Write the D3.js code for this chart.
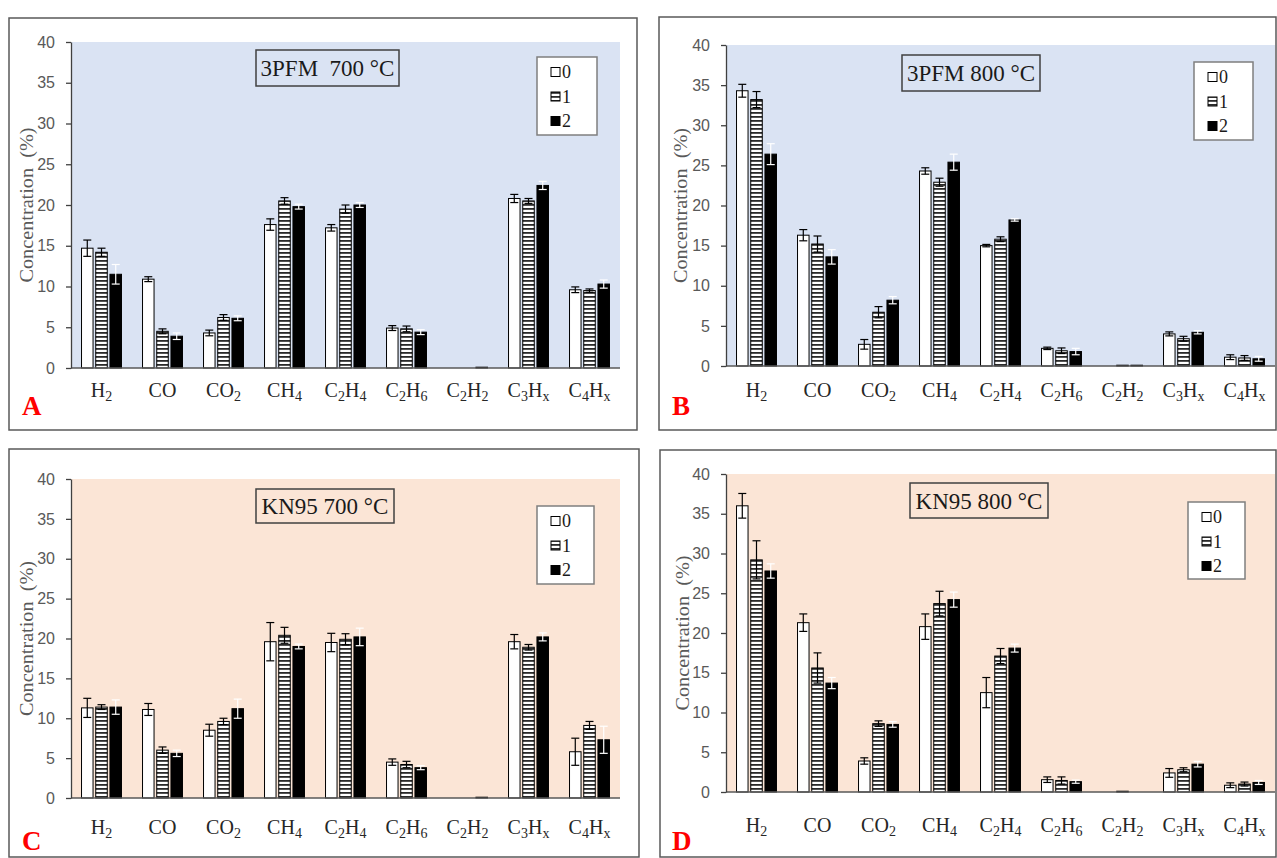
<!DOCTYPE html>
<html>
<head>
<meta charset="utf-8">
<script src="https://cdn.jsdelivr.net/npm/d3@7"></script>
<style>
  html, body { margin: 0; padding: 0; background: #ffffff; }
  svg { display: block; }
</style>
</head>
<body>
<svg id="chart" width="1277" height="858"></svg>
<script>
// ---------------- DATA ----------------
const categories = ["H2", "CO", "CO2", "CH4", "C2H4", "C2H6", "C2H2", "C3Hx", "C4Hx"];
const seriesNames = ["0", "1", "2"];
const yTicks = [0, 5, 10, 15, 20, 25, 30, 35, 40];
const yTitle = "Concentration\u00a0\u00a0(%)";

// Panel A: 3PFM 700 °C
const pfm700_s0 = [14.7, 10.9, 4.3, 17.6, 17.2, 4.9, 0, 20.8, 9.6];
const pfm700_s1 = [14.2, 4.5, 6.2, 20.5, 19.5, 4.8, 0, 20.5, 9.5];
const pfm700_s2 = [11.5, 3.9, 6.1, 19.8, 20.0, 4.4, 0.1, 22.4, 10.3];
const pfm700_e0 = [1.0, 0.3, 0.35, 0.7, 0.4, 0.3, 0, 0.5, 0.35];
const pfm700_e1 = [0.5, 0.3, 0.35, 0.4, 0.5, 0.35, 0, 0.3, 0.2];
const pfm700_e2 = [1.2, 0.4, 0.3, 0.3, 0.3, 0.3, 0, 0.5, 0.5];

// Panel B: 3PFM 800 °C
const pfm800_s0 = [34.3, 16.3, 2.7, 24.3, 15.0, 2.2, 0, 4.0, 1.1];
const pfm800_s1 = [33.2, 15.2, 6.7, 22.9, 15.8, 1.9, 0.1, 3.4, 1.0];
const pfm800_s2 = [26.4, 13.6, 8.2, 25.4, 18.2, 1.8, 0.1, 4.2, 0.9];
const pfm800_e0 = [0.8, 0.7, 0.6, 0.4, 0.15, 0.15, 0, 0.25, 0.3];
const pfm800_e1 = [1.0, 1.0, 0.7, 0.5, 0.3, 0.35, 0, 0.3, 0.3];
const pfm800_e2 = [1.3, 0.9, 0.45, 1.0, 0.15, 0.4, 0, 0.2, 0.3];

// Panel C: KN95 700 °C
const kn700_s0 = [11.3, 11.1, 8.5, 19.6, 19.5, 4.5, 0, 19.6, 5.8];
const kn700_s1 = [11.4, 6.0, 9.6, 20.4, 19.9, 4.2, 0, 18.9, 9.1];
const kn700_s2 = [11.4, 5.6, 11.2, 19.0, 20.2, 3.8, 0.1, 20.2, 7.3];
const kn700_e0 = [1.2, 0.75, 0.75, 2.4, 1.15, 0.4, 0, 0.9, 1.7];
const kn700_e1 = [0.3, 0.4, 0.4, 1.0, 0.7, 0.4, 0, 0.35, 0.5];
const kn700_e2 = [0.9, 0.4, 1.2, 0.3, 1.1, 0.25, 0, 0.5, 1.7];

// Panel D: KN95 800 °C
const kn800_s0 = [36.0, 21.3, 3.9, 20.8, 12.5, 1.55, 0, 2.4, 0.85];
const kn800_s1 = [29.2, 15.6, 8.6, 23.7, 17.1, 1.45, 0.1, 2.8, 1.0];
const kn800_s2 = [27.8, 13.7, 8.5, 24.2, 18.1, 1.3, 0, 3.5, 1.2];
const kn800_e0 = [1.55, 1.1, 0.4, 1.6, 1.9, 0.35, 0, 0.55, 0.3];
const kn800_e1 = [2.4, 1.9, 0.35, 1.55, 0.95, 0.45, 0, 0.25, 0.25];
const kn800_e2 = [0.9, 0.7, 0.35, 0.95, 0.5, 0.2, 0, 0.35, 0.25];

// ---------------- LAYOUT ----------------
const panels = [
  { letter: "A", title: "3PFM\u00a0\u00a0700 °C", bg: "#dae3f3",
    values: [pfm700_s0, pfm700_s1, pfm700_s2], errors: [pfm700_e0, pfm700_e1, pfm700_e2],
    border: [9, 18, 628, 412], plot: [71, 42, 620, 368],
    titleBox: [256, 50, 143, 36], legend: [537, 57, 60, 78],
    letterPos: [22, 415], yTitleX: 26.5, labelY: 397 },
  { letter: "B", title: "3PFM 800 °C", bg: "#dae3f3",
    values: [pfm800_s0, pfm800_s1, pfm800_s2], errors: [pfm800_e0, pfm800_e1, pfm800_e2],
    border: [659, 17, 617, 413], plot: [726, 45, 1275, 366],
    titleBox: [902, 55, 138, 36], legend: [1194, 62, 59, 78],
    letterPos: [672, 415], yTitleX: 681, labelY: 397 },
  { letter: "C", title: "KN95 700 °C", bg: "#fbe5d6",
    values: [kn700_s0, kn700_s1, kn700_s2], errors: [kn700_e0, kn700_e1, kn700_e2],
    border: [9, 449, 630, 408], plot: [71, 479, 620, 798],
    titleBox: [256, 489, 138, 34], legend: [537, 506, 57, 78],
    letterPos: [22, 850], yTitleX: 26.5, labelY: 834 },
  { letter: "D", title: "KN95 800 °C", bg: "#fbe5d6",
    values: [kn800_s0, kn800_s1, kn800_s2], errors: [kn800_e0, kn800_e1, kn800_e2],
    border: [660, 450, 616, 407], plot: [726, 474, 1275, 792],
    titleBox: [910, 483, 138, 35], legend: [1188, 502, 57, 77],
    letterPos: [672, 850], yTitleX: 683, labelY: 832 }
];

const SERIF = "'Liberation Serif', 'Times New Roman', serif";
const SANS = "'Liberation Sans', Arial, sans-serif";

const svg = d3.select("#chart");

// hatch pattern for series "1"
const defs = svg.append("defs");
const pat = defs.append("pattern")
  .attr("id", "hatch").attr("patternUnits", "userSpaceOnUse")
  .attr("width", 8).attr("height", 4);
pat.append("rect").attr("width", 8).attr("height", 4).attr("fill", "#ffffff");
pat.append("rect").attr("y", 0).attr("width", 8).attr("height", 1.8).attr("fill", "#2a2a2a");

const fills = ["#ffffff", "url(#hatch)", "#000000"];
const errColors = ["#000000", "#000000", "#ffffff"];

function labelParts(s) {
  // digits and 'x' become subscripts
  const parts = [];
  for (const ch of s) {
    const sub = /[0-9x]/.test(ch);
    if (parts.length && parts[parts.length - 1].sub === sub) parts[parts.length - 1].t += ch;
    else parts.push({ t: ch, sub });
  }
  return parts;
}

panels.forEach(p => {
  const g = svg.append("g");
  const [bx, by, bw, bh] = p.border;
  g.append("rect").attr("x", bx).attr("y", by).attr("width", bw).attr("height", bh)
    .attr("fill", "#ffffff").attr("stroke", "#595959").attr("stroke-width", 1.5);

  const [L, T, R, B] = p.plot;
  g.append("rect").attr("x", L).attr("y", T).attr("width", R - L).attr("height", B - T)
    .attr("fill", p.bg);

  const y = d3.scaleLinear().domain([0, 40]).range([B, T]);
  const x0 = d3.scaleBand().domain(categories).range([L, R]).padding(0);
  const x1 = d3.scaleBand().domain(seriesNames).range([0, x0.bandwidth()])
    .paddingInner(0.19).paddingOuter(0.74);

  // bars
  seriesNames.forEach((s, si) => {
    const vals = p.values[si];
    const errs = p.errors[si];
    const bars = g.append("g");
    bars.selectAll("rect").data(categories).join("rect")
      .attr("x", (c) => x0(c) + x1(s))
      .attr("y", (c, i) => y(vals[i]))
      .attr("width", x1.bandwidth())
      .attr("height", (c, i) => y(0) - y(vals[i]))
      .attr("fill", fills[si])
      .attr("stroke", "#000000").attr("stroke-width", 1);

    const eg = g.append("g").attr("stroke", errColors[si]).attr("stroke-width", 1.2);
    categories.forEach((c, i) => {
      if (!errs[i]) return;
      const cx = x0(c) + x1(s) + x1.bandwidth() / 2;
      const y1 = y(vals[i] + errs[i]), y2 = y(Math.max(0, vals[i] - errs[i]));
      eg.append("line").attr("x1", cx).attr("x2", cx).attr("y1", y1).attr("y2", y2);
      eg.append("line").attr("x1", cx - 4).attr("x2", cx + 4).attr("y1", y1).attr("y2", y1);
      eg.append("line").attr("x1", cx - 4).attr("x2", cx + 4).attr("y1", y2).attr("y2", y2);
    });
  });

  // x axis baseline
  g.append("line").attr("x1", L).attr("x2", R).attr("y1", y(0)).attr("y2", y(0))
    .attr("stroke", "#595959").attr("stroke-width", 1.5);

  // y axis
  const ya = g.append("g").attr("transform", `translate(${L},0)`)
    .call(d3.axisLeft(y).tickValues(yTicks).tickSize(5).tickSizeOuter(0).tickPadding(11));
  ya.select(".domain").attr("stroke", "#404040").attr("stroke-width", 1.3);
  ya.selectAll(".tick line").attr("stroke", "#404040").attr("stroke-width", 1.3);
  ya.selectAll(".tick text").attr("font-family", SANS).attr("font-size", 16)
    .attr("fill", "#595959");

  // category labels with subscripts
  categories.forEach(c => {
    const t = g.append("text").attr("x", x0(c) + x0.bandwidth() / 2).attr("y", p.labelY)
      .attr("text-anchor", "middle").attr("font-family", SERIF).attr("font-size", 20)
      .attr("fill", "#262626");
    let shifted = false;
    labelParts(c).forEach(part => {
      const ts = t.append("tspan").text(part.t);
      if (part.sub) { ts.attr("font-size", 14).attr("dy", 4); shifted = true; }
      else if (shifted) { ts.attr("dy", -4); shifted = false; }
    });
  });

  // y title
  const cy = (T + B) / 2;
  g.append("text").attr("transform", `translate(${p.yTitleX},${cy}) rotate(-90)`)
    .attr("text-anchor", "middle").attr("dominant-baseline", "central")
    .attr("font-family", SERIF).attr("font-size", 18).attr("fill", "#595959")
    .attr("textLength", 155).attr("lengthAdjust", "spacingAndGlyphs")
    .text(yTitle);

  // title box
  const [tx, ty, tw, th] = p.titleBox;
  g.append("rect").attr("x", tx).attr("y", ty).attr("width", tw).attr("height", th)
    .attr("fill", "none").attr("stroke", "#404040").attr("stroke-width", 1.5);
  g.append("text").attr("x", tx + tw / 2).attr("y", ty + th / 2 + 8)
    .attr("text-anchor", "middle").attr("font-family", SERIF).attr("font-size", 23)
    .attr("fill", "#1a1a1a").text(p.title);

  // legend
  const [lx, ly, lw, lh] = p.legend;
  g.append("rect").attr("x", lx).attr("y", ly).attr("width", lw).attr("height", lh)
    .attr("fill", "#ffffff").attr("stroke", "#7f7f7f").attr("stroke-width", 1.5);
  seriesNames.forEach((s, si) => {
    const ry = ly + 15 + si * 24.5;
    g.append("rect").attr("x", lx + 14).attr("y", ry - 4.5).attr("width", 9).attr("height", 9)
      .attr("fill", fills[si]).attr("stroke", "#000000").attr("stroke-width", 1);
    g.append("text").attr("x", lx + 25).attr("y", ry + 6)
      .attr("font-family", SERIF).attr("font-size", 18).attr("fill", "#1a1a1a").text(s);
  });

  // panel letter
  g.append("text").attr("x", p.letterPos[0]).attr("y", p.letterPos[1])
    .attr("font-family", SERIF).attr("font-size", 27).attr("font-weight", "bold")
    .attr("fill", "#ff0000").text(p.letter);
});
</script>
</body>
</html>
